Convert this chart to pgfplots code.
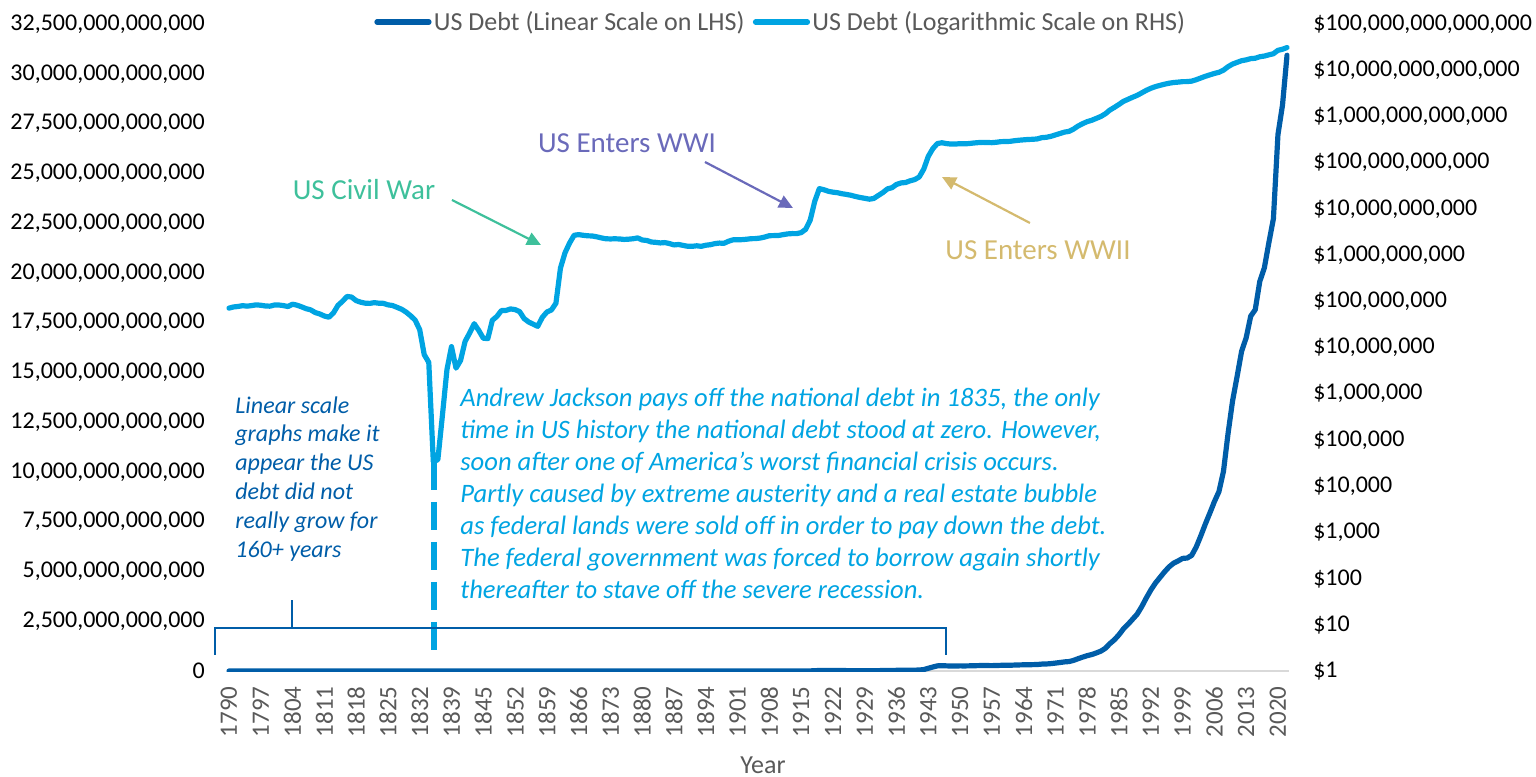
\documentclass[border=0pt]{standalone}
\usepackage{fontspec}
\setmainfont{Carlito}
\usepackage{pgfplots}
\usepackage{pgfplotstable}
\pgfplotsset{compat=1.18}
\usetikzlibrary{arrows.meta}

\definecolor{linblue}{RGB}{0,93,168}
\definecolor{logblue}{RGB}{0,164,226}
\definecolor{civil}{RGB}{62,192,155}
\definecolor{wwi}{RGB}{106,106,186}
\definecolor{wwii}{RGB}{212,186,110}
\definecolor{txtgray}{RGB}{89,89,89}
\definecolor{axgray}{RGB}{217,217,217}

\pgfplotstableread{
year debt
1790 71060508
1791 75463476
1792 77227924
1793 80358634
1794 78427405
1795 80747587
1796 83762172
1797 82064479
1798 79228529
1799 78408670
1800 82976294
1801 83038051
1802 80712632
1803 77054686
1804 86427121
1805 82312150
1806 75723271
1807 69218399
1808 65196318
1809 57023192
1810 53173218
1811 48005588
1812 45209738
1813 55962828
1814 81487846
1815 99833660
1816 127334934
1817 123491965
1818 103466634
1819 95529648
1820 91015566
1821 89987428
1822 93546677
1823 90875877
1824 90269778
1825 83788433
1826 81054060
1827 73987357
1828 67475044
1829 58421414
1830 48565406
1831 39123192
1832 24322235
1833 7001699
1834 4760082
1835 33733
1836 37513
1837 336958
1838 3308124
1839 10434221
1840 3573344
1841 5250876
1842 13594481
1843 20601226
1843 32742922
1844 23461653
1845 15925303
1846 15550203
1847 38826535
1848 47044862
1849 63061859
1850 63452774
1851 68304796
1852 66199342
1853 59803118
1854 42242222
1855 35586957
1856 31972538
1857 28699832
1858 44911881
1859 58496838
1860 64842288
1861 90580874
1862 524176412
1863 1119772139
1864 1815784371
1865 2677929012
1866 2773236174
1867 2678126104
1868 2611687851
1869 2588452214
1870 2480672428
1871 2353211332
1872 2253251329
1873 2234482993
1874 2251690469
1875 2232284532
1876 2180395067
1877 2205301392
1878 2256205893
1879 2349567232
1880 2120415371
1881 2069013570
1882 1918312994
1883 1884171728
1884 1830528924
1885 1863964874
1886 1775063014
1887 1657602593
1888 1692858985
1889 1619052923
1890 1552140205
1891 1545996592
1892 1588464145
1893 1545985686
1894 1632253637
1895 1676120984
1896 1769840323
1897 1817672666
1898 1796531996
1899 1991927307
1900 2136961092
1901 2143326934
1902 2158610446
1903 2202464782
1904 2264003585
1905 2274615064
1906 2337161839
1907 2457188062
1908 2626806272
1909 2639546241
1910 2652665838
1911 2765600607
1912 2868373874
1913 2916204914
1914 2912499269
1915 3058136873
1916 3609244262
1917 5717770280
1918 14592161414
1919 27390970113
1920 25952456406
1921 23977450553
1922 22963381708
1923 22349707365
1924 21250812989
1925 20516193888
1926 19643216315
1927 18511906932
1928 17604293201
1929 16931088484
1930 16185309831
1931 16801281492
1932 19487002444
1933 22538672560
1934 27053141414
1935 28700892625
1936 33778543494
1937 36424613732
1938 37164740315
1939 40439532411
1940 42967531038
1941 48961443536
1942 72422445116
1943 136696090330
1944 201003387221
1945 258682187410
1946 269422099173
1947 258286383109
1948 252292246513
1949 252770359860
1950 257357352351
1951 255221976815
1952 259105178785
1953 266071061639
1954 271259599108
1955 274374222803
1956 272750813649
1957 270527171896
1958 276343217746
1959 284706076135
1960 286330760848
1961 288970938610
1962 298200822721
1963 305859632996
1964 311712899257
1965 317273898984
1966 319907087795
1967 326220937795
1968 347578406426
1969 353720253841
1970 370918706950
1971 398129744456
1972 427260460940
1973 458141605312
1974 475059815732
1975 533188976772
1976 620432000000
1977 698840000000
1978 771544000000
1979 826519000000
1980 907701000000
1981 997855000000
1982 1142034000000
1983 1377210000000
1984 1572266000000
1985 1823103000000
1986 2125302000000
1987 2350276000000
1988 2602337000000
1989 2857430000000
1990 3233313000000
1991 3665303000000
1992 4064621000000
1993 4411489000000
1994 4692750000000
1995 4973983000000
1996 5224811000000
1997 5413146000000
1998 5526193000000
1999 5656271000000
2000 5674178000000
2001 5807463000000
2002 6228236000000
2003 6783231000000
2004 7379053000000
2005 7932710000000
2006 8506974000000
2007 9007653000000
2008 10024724000000
2009 11909829000000
2010 13561623000000
2011 14790340000000
2012 16066241000000
2013 16738184000000
2014 17824071000000
2015 18150618000000
2016 19573445000000
2017 20244900000000
2018 21516058000000
2019 22719402000000
2020 26945391000000
2021 28428919000000
2022 30928912000000
}\debttable

\newcommand{\tfont}{\fontsize{12bp}{14bp}\selectfont}

\pgfplotsset{
  commonaxis/.style={
    at={(113.35bp,-335.5bp)}, anchor=south west,
    scale only axis, width=531.3bp, height=323.5bp,
    xmin=-0.5, xmax=233.5,
    major tick length=0pt, minor tick length=0pt,
    scaled y ticks=false, scaled x ticks=false,
    tick label style={font=\tfont, inner sep=0pt},
  },
}

\begin{document}
\begin{tikzpicture}
\useasboundingbox (0bp,0bp) rectangle (768bp,-388.5bp);

% Linear axis (left)
\begin{axis}[commonaxis,
  axis x line*=bottom, axis y line*=left,
  x axis line style={draw=axgray, line width=0.8bp},
  y axis line style={draw=none},
  ymin=0, ymax=32.5e12,
  ytick={0,2.5e12,5e12,7.5e12,10e12,12.5e12,15e12,17.5e12,20e12,22.5e12,25e12,27.5e12,30e12,32.5e12},
  yticklabels={0,{2,500,000,000,000},{5,000,000,000,000},{7,500,000,000,000},{10,000,000,000,000},{12,500,000,000,000},{15,000,000,000,000},{17,500,000,000,000},{20,000,000,000,000},{22,500,000,000,000},{25,000,000,000,000},{27,500,000,000,000},{30,000,000,000,000},{32,500,000,000,000}},
  yticklabel style={anchor=east, xshift=-10.8bp},
  xtick={0,7,...,231},
  xticklabels={1790,1797,1804,1811,1818,1825,1832,1839,1845,1852,1859,1866,1873,1880,1887,1894,1901,1908,1915,1922,1929,1936,1943,1950,1957,1964,1971,1978,1985,1992,1999,2006,2013,2020},
  xticklabel style={rotate=90, anchor=east, text=txtgray, font=\fontsize{12.5bp}{14bp}\selectfont},
  xticklabel shift=7.5bp,
  xlabel={Year},
  xlabel style={at={(axis description cs:0.5047,0)}, anchor=center, yshift=-47bp, text=txtgray, font=\fontsize{13bp}{15bp}\selectfont},
]
\addplot[linblue, line width=2.6bp, line join=round, line cap=round] table[x expr=\coordindex, y=debt] {\debttable};
\end{axis}

% Logarithmic axis (right)
\begin{axis}[commonaxis,
  axis x line=none, axis y line*=right,
  y axis line style={draw=none},
  xtick=\empty,
  ymode=log, ymin=1, ymax=1e14,
  ytick={1,10,100,1000,10000,1e5,1e6,1e7,1e8,1e9,1e10,1e11,1e12,1e13,1e14},
  minor ytick={},
  yticklabels={{\$1},{\$10},{\$100},{\$1,000},{\$10,000},{\$100,000},{\$1,000,000},{\$10,000,000},{\$100,000,000},{\$1,000,000,000},{\$10,000,000,000},{\$100,000,000,000},{\$1,000,000,000,000},{\$10,000,000,000,000},{\$100,000,000,000,000}},
  yticklabel style={anchor=west, xshift=11.8bp},
  legend columns=2,
  legend style={draw=none, fill=none, at={(0.5216,1)}, anchor=center, yshift=1bp,
    font=\fontsize{13bp}{15bp}\selectfont, text=txtgray, inner sep=0pt,
    nodes={inner sep=1.2bp},
    /tikz/every even column/.append style={column sep=3bp}},
  legend image code/.code={\draw[#1] (0bp,0bp) -- (26bp,0bp);},
]
\addlegendimage{linblue, line width=2.6bp, line cap=round}
\addlegendentry{US Debt (Linear Scale on LHS)}
\addplot[logblue, line width=2.6bp, line join=round, line cap=round] table[x expr=\coordindex, y=debt] {\debttable};
\addlegendentry{US Debt (Logarithmic Scale on RHS)}
\end{axis}

% Annotations (coordinates in image pixels)
\begin{scope}[x=0.5bp, y=-0.5bp]
  \draw[logblue, line width=2.6bp, dash pattern=on 14bp off 6bp] (434,462) -- (434,657);
  \draw[linblue, line width=0.6bp] (215,655) -- (215,628) -- (946,628) -- (946,655);
  \draw[linblue, line width=0.6bp] (292,628) -- (292,600);
  \draw[civil, line width=1.1bp, -{Triangle[length=7bp,width=6.5bp]}] (452,200) -- (541,245);
  \draw[wwi, line width=1.1bp, -{Triangle[length=7bp,width=6.5bp]}] (705,162) -- (793,208);
  \draw[wwii, line width=1.1bp, -{Triangle[length=7bp,width=6.5bp]}] (1030,223) -- (942,177);
  \node[text=civil, font=\fontsize{14.5bp}{17bp}\selectfont] at (364,190) {US Civil War};
  \node[text=wwi, font=\fontsize{14.5bp}{17bp}\selectfont] at (627,143) {US Enters WWI};
  \node[text=wwii, font=\fontsize{14.5bp}{17bp}\selectfont] at (1038,250) {US Enters WWII};
  \node[anchor=north west, inner sep=0pt, align=left, text=linblue,
        font=\fontsize{12bp}{14.4bp}\selectfont\itshape] at (235,396)
    {Linear scale\\graphs make it\\appear the US\\debt did not\\really grow for\\160+ years};
  \node[anchor=north west, inner sep=0pt, align=left, text=logblue,
        font=\fontsize{13.3bp}{16bp}\selectfont\itshape] at (460,388)
    {Andrew Jackson pays off the national debt in 1835, the only\\
     time in US history the national debt stood at zero. However,\\
     soon after one of America's worst financial crisis occurs.\\
     Partly caused by extreme austerity and a real estate bubble\\
     as federal lands were sold off in order to pay down the debt.\\
     The federal government was forced to borrow again shortly\\
     thereafter to stave off the severe recession.};
\end{scope}
\end{tikzpicture}
\end{document}
